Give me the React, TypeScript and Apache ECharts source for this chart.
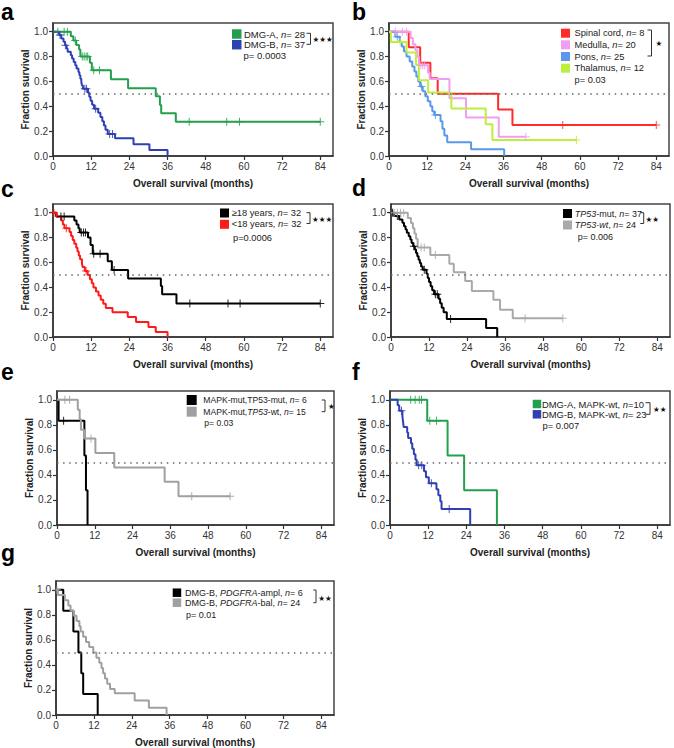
import React, { useEffect, useRef } from 'react';
import * as echarts from 'echarts';

const xTicks = [0, 12, 24, 36, 48, 60, 72, 84];
const yTicks = [0, 0.2, 0.4, 0.6, 0.8, 1.0];
const xTitle = 'Overall survival (months)';
const yTitle = 'Fraction survival';

// ---- panel a ----
const aDmgAEvents = [[5.6, 0.964], [6.4, 0.929], [7.3, 0.893], [8.2, 0.857], [8.6, 0.80], [11.6, 0.75], [12.2, 0.69], [18.2, 0.617], [23.6, 0.545], [32.3, 0.48], [33.6, 0.41], [34.0, 0.343], [38.6, 0.276]];
const aDmgACensored = [1.5, 3.5, 4.5, 7.0, 9.2, 9.8, 10.4, 10.9, 12.8, 14.6, 42.8, 54.6, 58.6, 84];
const aDmgBEvents = [[1.9, 0.973], [2.6, 0.946], [3.3, 0.919], [3.8, 0.892], [4.3, 0.865], [4.6, 0.838], [5.6, 0.811], [6.0, 0.784], [6.5, 0.757], [7.0, 0.730], [7.4, 0.703], [8.0, 0.676], [8.3, 0.649], [8.6, 0.622], [8.9, 0.595], [9.1, 0.568], [9.4, 0.541], [11.0, 0.509], [11.4, 0.477], [11.8, 0.445], [12.3, 0.413], [12.9, 0.381], [14.2, 0.347], [14.9, 0.313], [15.5, 0.279], [16.0, 0.245], [16.5, 0.211], [17.2, 0.177], [19.5, 0.142], [25.3, 0.095], [30.3, 0.048], [36.0, 0]];
const aDmgBCensored = [2.2, 3.9, 10.0, 10.5, 13.4, 17.8, 18.7];
const aLabels = ['DMG-A, {i|n}= 28', 'DMG-B, {i|n}= 37'];
const aP = 'p= 0.0003';
const aStars = '★★★';

// ---- panel b ----
const bSpinalEvents = [[6.2, 0.875], [9.8, 0.75], [13.0, 0.625], [15.3, 0.5], [34.3, 0.375], [38.8, 0.25]];
const bSpinalCensored = [54.6, 84];
const bMedullaEvents = [[6.8, 0.95], [7.5, 0.90], [8.3, 0.85], [8.9, 0.80], [9.4, 0.73], [12.3, 0.67], [12.8, 0.62], [19.0, 0.465], [24.2, 0.31], [34.5, 0.155]];
const bMedullaCensored = [2.0, 4.2, 5.5, 10.0, 10.6, 11.2, 43.0];
const bPonsEvents = [[2.0, 0.96], [3.4, 0.92], [4.0, 0.88], [4.7, 0.84], [5.5, 0.80], [6.5, 0.76], [7.3, 0.72], [8.0, 0.68], [8.6, 0.64], [9.2, 0.60], [9.8, 0.56], [10.6, 0.52], [11.4, 0.48], [12.2, 0.44], [13.0, 0.40], [13.6, 0.36], [14.2, 0.33], [16.2, 0.28], [16.8, 0.22], [17.4, 0.165], [18.3, 0.11], [25.8, 0.055], [36.2, 0]];
const bPonsCensored = [2.6, 10.2, 14.6];
const bThalamusEvents = [[0.6, 0.917], [5.5, 0.833], [8.5, 0.733], [9.4, 0.61], [12.3, 0.51], [19.6, 0.383], [30.4, 0.255], [32.5, 0.128]];
const bThalamusCensored = [3.5, 58.9];
const bLabels = ['Spinal cord, {i|n}= 8', 'Medulla, {i|n}= 20', 'Pons, {i|n}= 25', 'Thalamus, {i|n}= 12'];
const bP = 'p= 0.03';
const bStars = '★';

// ---- panel c ----
const cAdultEvents = [[1.0, 0.969], [6.7, 0.938], [7.4, 0.906], [8.0, 0.875], [8.4, 0.84], [11.0, 0.80], [11.8, 0.74], [12.5, 0.67], [17.2, 0.61], [18.5, 0.54], [23.6, 0.47], [33.9, 0.41], [34.3, 0.344], [38.8, 0.27]];
const cAdultCensored = [2.5, 3.5, 8.9, 9.6, 10.2, 12.8, 14.8, 19.2, 43, 55, 58.8, 84];
const cChildEvents = [[1.2, 0.969], [2.6, 0.938], [3.1, 0.906], [3.6, 0.875], [5.2, 0.844], [5.7, 0.813], [6.2, 0.781], [6.7, 0.75], [7.3, 0.719], [7.7, 0.688], [8.1, 0.656], [8.5, 0.625], [9.1, 0.594], [9.3, 0.563], [10.0, 0.531], [10.9, 0.498], [11.6, 0.465], [12.2, 0.432], [12.7, 0.399], [13.5, 0.366], [14.3, 0.333], [15.0, 0.30], [15.8, 0.267], [16.6, 0.234], [18.7, 0.20], [23.5, 0.16], [26.1, 0.12], [30.0, 0.08], [32.3, 0.04], [36.0, 0]];
const cChildCensored = [0.3, 4.2, 10.4];
const cLabels = ['≥18 years, {i|n}= 32', '<18 years, {i|n}= 32'];
const cP = 'p=0.0006';
const cStars = '★★★';

// ---- panel d ----
const dMutEvents = [[1.0, 0.973], [2.6, 0.946], [3.6, 0.919], [4.1, 0.892], [4.6, 0.865], [5.0, 0.838], [5.6, 0.811], [6.1, 0.784], [6.5, 0.757], [7.0, 0.730], [7.5, 0.703], [7.9, 0.676], [8.3, 0.649], [8.7, 0.622], [9.1, 0.595], [9.5, 0.568], [10.0, 0.541], [11.2, 0.508], [11.6, 0.475], [12.0, 0.442], [12.5, 0.409], [13.0, 0.376], [13.6, 0.343], [15.0, 0.307], [15.5, 0.271], [16.0, 0.235], [16.6, 0.199], [17.6, 0.145], [30.0, 0.072], [33.5, 0]];
const dMutCensored = [0.5, 2.0, 7.2, 10.5, 14.0, 14.6, 18.8];
const dWtEvents = [[5.3, 0.958], [6.3, 0.917], [6.9, 0.875], [7.4, 0.833], [7.9, 0.79], [8.4, 0.72], [12.4, 0.66], [18.4, 0.59], [19.8, 0.52], [23.4, 0.45], [25.5, 0.37], [32.3, 0.30], [34.4, 0.22], [38.4, 0.15]];
const dWtCensored = [1.0, 2.0, 3.0, 4.0, 9.5, 10.5, 14.0, 42.3, 54.2];
const dLabels = ['{i|TP53}-mut, {i|n}= 37', '{i|TP53-wt}, {i|n}= 24'];
const dP = 'p= 0.006';
const dStars = '★★';

// ---- panel e ----
const eMutEvents = [[0.5, 0.833], [8.7, 0.555], [9.2, 0.278], [9.7, 0]];
const eMutCensored = [2.1];
const eWtEvents = [[6.6, 0.92], [7.2, 0.845], [7.6, 0.76], [8.6, 0.69], [12.2, 0.575], [18.2, 0.46], [34.2, 0.345], [38.6, 0.23]];
const eWtCensored = [2.5, 4.0, 10.8, 42.8, 55.0];
const eLabels = ['MAPK-mut,TP53-mut, {i|n}= 6', 'MAPK-mut,{i|TP53}-wt, {i|n}= 15'];
const eP = 'p= 0.03';
const eStars = '★';

// ---- panel f ----
const fDmgAEvents = [[11.7, 0.833], [18.1, 0.555], [23.3, 0.278], [33.6, 0]];
const fDmgACensored = [6.5, 7.9, 9.2, 9.9, 12.5, 14.6];
const fDmgBEvents = [[2.4, 0.957], [2.9, 0.913], [3.9, 0.87], [4.1, 0.826], [4.3, 0.782], [5.4, 0.739], [5.7, 0.695], [6.6, 0.652], [7.0, 0.608], [7.5, 0.565], [8.0, 0.521], [8.4, 0.478], [10.7, 0.43], [11.3, 0.382], [12.2, 0.334], [14.6, 0.286], [15.2, 0.238], [15.8, 0.19], [16.2, 0.127], [25.2, 0]];
const fDmgBCensored = [3.6, 9.0, 10.0, 13.0, 18.6];
const fLabels = ['DMG-A, MAPK-wt, {i|n}=10', 'DMG-B, MAPK-wt, {i|n}= 23'];
const fP = 'p= 0.007';
const fStars = '★★';

// ---- panel g ----
const gAmplEvents = [[2.3, 0.833], [5.5, 0.667], [7.1, 0.5], [8.0, 0.333], [8.6, 0.167], [13.2, 0]];
const gAmplCensored: number[] = [];
const gBalEvents = [[0.6, 0.958], [2.8, 0.917], [3.9, 0.875], [4.6, 0.833], [5.6, 0.792], [6.5, 0.75], [7.4, 0.708], [7.8, 0.667], [8.6, 0.625], [9.5, 0.583], [10.5, 0.542], [11.8, 0.50], [12.8, 0.458], [13.7, 0.417], [14.4, 0.375], [14.9, 0.333], [15.5, 0.292], [16.2, 0.25], [17.1, 0.208], [18.6, 0.173], [24.9, 0.115], [29.4, 0.058], [35.0, 0]];
const gBalCensored = [0.3];
const gLabels = ['DMG-B, {i|PDGFRA}-ampl, {i|n}= 6', 'DMG-B, {i|PDGFRA}-bal, {i|n}= 24'];
const gP = 'p= 0.01';
const gStars = '★★';

const FONT = "'Liberation Sans', Arial, Helvetica, sans-serif";
const GREEN = '#23a04e';
const BLUE = '#2f40b3';
const PLUS = 'path://M3.5,0H4.5V8H3.5ZM0,3.5H8V4.5H0Z';

type Curve = { events: number[][]; cens: number[]; color: string };

const panels = [
  {
    letter: 'a', letterX: 1, letterY: 11.5,
    grid: { left: 53, top: 23, width: 280, height: 133 },
    curves: [
      { events: aDmgAEvents, cens: aDmgACensored, color: GREEN },
      { events: aDmgBEvents, cens: aDmgBCensored, color: BLUE },
    ] as Curve[],
    labels: aLabels, p: aP, stars: aStars,
    leg: { sqX: 232, sq: 9.5, textX: 244, rowY: [34, 44.7], pX: 243.5, pY: 55.5, font: 9.5, br: [306.5, 310.5, 33.3, 44.3], starX: 312.5, starY: 39.5 },
  },
  {
    letter: 'b', letterX: 352, letterY: 11.5,
    grid: { left: 389, top: 23, width: 280, height: 133 },
    curves: [
      { events: bSpinalEvents, cens: bSpinalCensored, color: '#ff2b2b' },
      { events: bMedullaEvents, cens: bMedullaCensored, color: '#f19ef0' },
      { events: bPonsEvents, cens: bPonsCensored, color: '#5b97ea' },
      { events: bThalamusEvents, cens: bThalamusCensored, color: '#bdef3e' },
    ] as Curve[],
    labels: bLabels, p: bP, stars: bStars,
    leg: { sqX: 561, sq: 9, textX: 574.5, rowY: [33.2, 44.8, 56.5, 68.2], pX: 574.5, pY: 79.9, font: 9.3, br: [647.5, 651.5, 30, 56], starX: 655.5, starY: 43.3 },
  },
  {
    letter: 'c', letterX: 1, letterY: 189,
    grid: { left: 53, top: 204, width: 280, height: 133 },
    curves: [
      { events: cAdultEvents, cens: cAdultCensored, color: '#000000' },
      { events: cChildEvents, cens: cChildCensored, color: '#ff1a1a' },
    ] as Curve[],
    labels: cLabels, p: cP, stars: cStars,
    leg: { sqX: 220, sq: 9, textX: 231.7, rowY: [213, 224.3], pX: 233, pY: 238, font: 9.3, br: [306.5, 310, 212.7, 223.5], starX: 312, starY: 219.3 },
  },
  {
    letter: 'd', letterX: 352, letterY: 188,
    grid: { left: 391, top: 204, width: 279, height: 133 },
    curves: [
      { events: dMutEvents, cens: dMutCensored, color: '#000000' },
      { events: dWtEvents, cens: dWtCensored, color: '#a9a9a9' },
    ] as Curve[],
    labels: dLabels, p: dP, stars: dStars,
    leg: { sqX: 563, sq: 9, textX: 574.7, rowY: [213.5, 225], pX: 577.7, pY: 236.7, font: 9, br: [640.3, 643.7, 212.7, 223.5], starX: 645.5, starY: 219.3 },
  },
  {
    letter: 'e', letterX: 1, letterY: 372,
    grid: { left: 57, top: 391, width: 277, height: 134 },
    curves: [
      { events: eMutEvents, cens: eMutCensored, color: '#000000' },
      { events: eWtEvents, cens: eWtCensored, color: '#a0a0a0' },
    ] as Curve[],
    labels: eLabels, p: eP, stars: eStars,
    leg: { sqX: 186.7, sq: 10, textX: 203.3, rowY: [400, 411.7], pX: 204.3, pY: 423.3, font: 8.6, br: [321.7, 325, 400, 411.7], starX: 328, starY: 406 },
  },
  {
    letter: 'f', letterX: 352, letterY: 372,
    grid: { left: 390, top: 391, width: 280, height: 134 },
    curves: [
      { events: fDmgAEvents, cens: fDmgACensored, color: GREEN },
      { events: fDmgBEvents, cens: fDmgBCensored, color: BLUE },
    ] as Curve[],
    labels: fLabels, p: fP, stars: fStars,
    leg: { sqX: 532.7, sq: 8.5, textX: 542, rowY: [404, 414.3], pX: 542.5, pY: 425, font: 9.4, br: [645.5, 650, 402.7, 414.3], starX: 653, starY: 409.3 },
  },
  {
    letter: 'g', letterX: 1, letterY: 553,
    grid: { left: 56, top: 581, width: 278, height: 134 },
    curves: [
      { events: gAmplEvents, cens: gAmplCensored, color: '#000000' },
      { events: gBalEvents, cens: gBalCensored, color: '#a0a0a0' },
    ] as Curve[],
    labels: gLabels, p: gP, stars: gStars,
    leg: { sqX: 172.7, sq: 8.5, textX: 185, rowY: [592.7, 602.7], pX: 186, pY: 615, font: 9, br: [313.3, 316, 590, 602.7], starX: 318.3, starY: 598.3 },
  },
];

function survAt(events: number[][], t: number) {
  let s = 1;
  for (const e of events) {
    if (e[0] <= t) s = e[1];
  }
  return s;
}

function buildOption() {
  const grid: any[] = [];
  const xAxis: any[] = [];
  const yAxis: any[] = [];
  const series: any[] = [];
  const graphic: any[] = [];

  panels.forEach((p, i) => {
    grid.push({ ...p.grid, show: true, borderColor: '#444', borderWidth: 1.5, containLabel: false, outerBoundsMode: 'none' });
    xAxis.push({
      gridIndex: i, type: 'value', min: 0, max: 88,
      axisLine: { show: true, onZero: false, lineStyle: { color: '#333', width: 1.5 } },
      axisTick: { show: true, length: 4, customValues: xTicks, lineStyle: { color: '#333', width: 1.2 } },
      axisLabel: { show: true, customValues: xTicks, fontSize: 10, color: '#333', margin: 5, fontFamily: FONT },
      splitLine: { show: false },
      name: xTitle, nameLocation: 'middle', nameGap: 22,
      nameTextStyle: { fontWeight: 'bold', fontSize: 10, color: '#222', fontFamily: FONT },
    });
    yAxis.push({
      gridIndex: i, type: 'value', min: 0, max: 1.07,
      axisLine: { show: true, onZero: false, lineStyle: { color: '#333', width: 1.5 } },
      axisTick: { show: true, length: 4, customValues: yTicks, lineStyle: { color: '#333', width: 1.2 } },
      axisLabel: { show: true, customValues: yTicks, fontSize: 10, color: '#333', margin: 5, fontFamily: FONT, formatter: (v: number) => v.toFixed(1) },
      splitLine: { show: false },
      name: yTitle, nameLocation: 'middle', nameGap: 23, nameRotate: 90,
      nameTextStyle: { fontWeight: 'bold', fontSize: 10, color: '#222', fontFamily: FONT },
    });

    p.curves.forEach((c, k) => {
      const last = c.events[c.events.length - 1];
      const end = Math.max(last[0], ...c.cens);
      const lineData = [[0, 1], ...c.events];
      if (end > last[0]) lineData.push([end, last[1]]);
      const s: any = {
        type: 'line', xAxisIndex: i, yAxisIndex: i, data: lineData, step: 'end',
        showSymbol: false, symbol: 'none', silent: true,
        lineStyle: { color: c.color, width: 2 }, itemStyle: { color: c.color }, z: 3,
      };
      if (k === 0) {
        s.markLine = {
          silent: true, symbol: 'none', label: { show: false },
          lineStyle: { type: [1.5, 4.6], color: '#666', width: 1.5 },
          data: [{ yAxis: 0.5 }],
        };
      }
      series.push(s);
      if (c.cens.length) {
        series.push({
          type: 'scatter', xAxisIndex: i, yAxisIndex: i, silent: true,
          data: c.cens.map((t) => [t, survAt(c.events, t)]),
          symbol: PLUS, symbolSize: 8, itemStyle: { color: c.color, opacity: 0.85 }, z: 4,
        });
      }
    });

    // panel letter
    graphic.push({
      type: 'text', x: p.letterX, y: p.letterY,
      style: { text: p.letter, fontSize: 23, fontWeight: 'bold', fontFamily: FONT, fill: '#000', verticalAlign: 'middle', align: 'left' },
    });

    const L = p.leg;
    p.curves.forEach((c, k) => {
      graphic.push({ type: 'rect', shape: { x: L.sqX, y: L.rowY[k] - L.sq / 2, width: L.sq, height: L.sq }, style: { fill: c.color } });
      graphic.push({
        type: 'text', x: L.textX, y: L.rowY[k],
        style: {
          text: p.labels[k], fontSize: L.font, fontFamily: FONT, fill: '#222', verticalAlign: 'middle', align: 'left',
          rich: { i: { fontStyle: 'italic', fontSize: L.font, fontFamily: FONT, fill: '#222' } },
        },
      });
    });
    graphic.push({
      type: 'text', x: L.pX, y: L.pY,
      style: { text: p.p, fontSize: L.font, fontFamily: FONT, fill: '#222', verticalAlign: 'middle', align: 'left' },
    });
    graphic.push({
      type: 'polyline',
      shape: { points: [[L.br[0], L.br[2]], [L.br[1], L.br[2]], [L.br[1], L.br[3]], [L.br[0], L.br[3]]] },
      style: { stroke: '#333', lineWidth: 1, fill: null },
    });
    graphic.push({
      type: 'text', x: L.starX, y: L.starY,
      style: { text: p.stars, fontSize: 7.5, fontFamily: "'DejaVu Sans', sans-serif", fill: '#111', verticalAlign: 'middle', align: 'left' },
    });
  });

  return {
    animation: false,
    backgroundColor: '#ffffff',
    grid, xAxis, yAxis, series, graphic,
  };
}

export default function App() {
  const ref = useRef<HTMLDivElement>(null);
  useEffect(() => {
    const chart = echarts.init(ref.current!, null, { renderer: 'svg' });
    chart.setOption(buildOption() as any);
    return () => chart.dispose();
  }, []);
  return <div ref={ref} style={{ position: 'absolute', left: 0, top: 0, width: 674, height: 748 }} />;
}
